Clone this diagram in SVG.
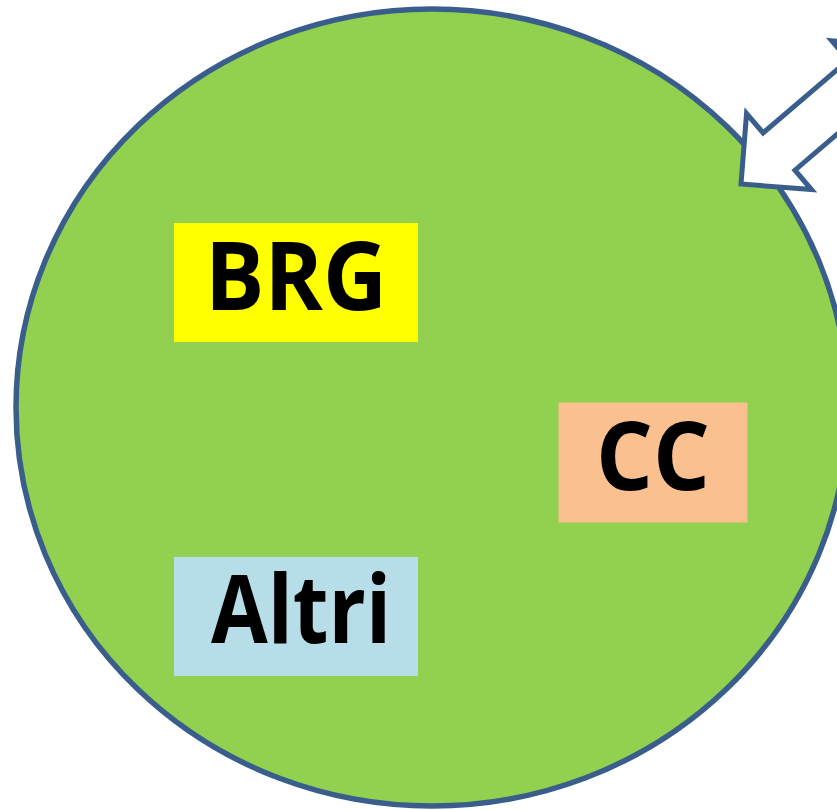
<svg xmlns="http://www.w3.org/2000/svg" width="837" height="810" viewBox="0 0 837 810">
  <style>
    .outline { stroke: #3A5E8C; }
    .label { font-family: "Open Sans", "Liberation Sans", sans-serif; font-weight: bold; font-size: 95px; fill: #000000; text-anchor: middle; }
  </style>
  <rect x="0" y="0" width="837" height="810" fill="#FFFFFF"/>
  <g id="circle">
    <ellipse cx="432" cy="407.5" rx="416" ry="398.5" fill="#92D050" class="outline" stroke-width="5.5"/>
  </g>
  <g id="brg">
    <rect x="174" y="223" width="244" height="119" fill="#FFFF00"/>
    <text class="label" x="296" y="310" textLength="182" lengthAdjust="spacingAndGlyphs">BRG</text>
  </g>
  <g id="cc">
    <rect x="558.5" y="402.5" width="189" height="120" fill="#FAC090"/>
    <text class="label" x="653" y="490" textLength="114" lengthAdjust="spacingAndGlyphs">CC</text>
  </g>
  <g id="altri">
    <rect x="174" y="557" width="244" height="119" fill="#B7DEE8"/>
    <text class="label" x="301" y="643" textLength="180" lengthAdjust="spacingAndGlyphs">Altri</text>
  </g>
  <g id="connectors">
    <polygon transform="translate(741 184) rotate(-40.5)" points="0,0 50,-50 50,-24.5 162,-24.5 162,-50 212,0 162,50 162,24.5 50,24.5 50,50" fill="#FFFFFF" class="outline" stroke-width="5" stroke-linejoin="miter"/>
  </g>
</svg>
